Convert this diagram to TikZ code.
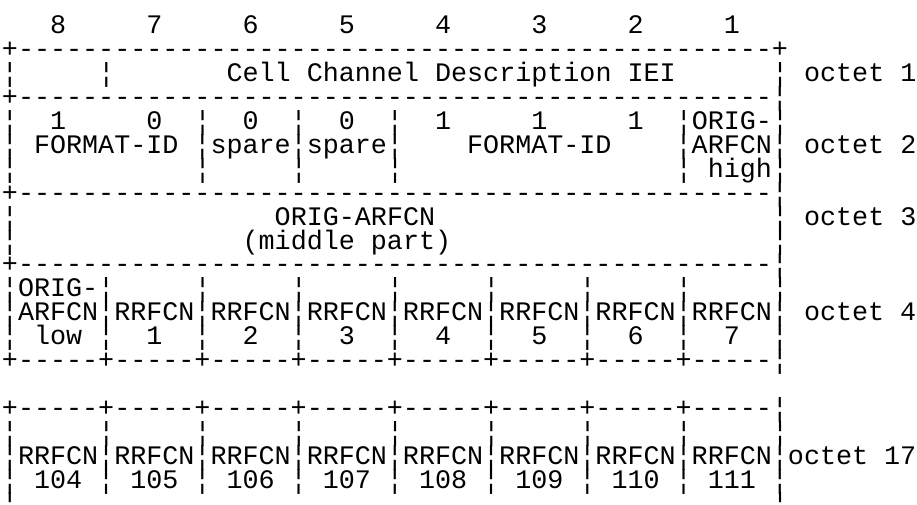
\documentclass[tikz,border=0pt]{standalone}
\usepackage{fontspec}
\setmonofont{Liberation Mono}
\newcommand\blank[1]{\hspace*{#1\fontdimen2\font}}

\begin{document}
\begin{tikzpicture}[
    x=0.75pt, y=-0.75pt,
    every node/.style={font=\fontsize{20.05pt}{22pt}\ttfamily},
    row/.style={anchor=base west, inner sep=0pt, outer sep=0pt},
]
    \useasboundingbox (0,0) rectangle (917,504);

    % bit numbers
    \node[row] (bits) at (2,33.9) {\blank{3}8\blank{5}7\blank{5}6\blank{5}5\blank{5}4\blank{5}3\blank{5}2\blank{5}1};

    % octet 1
    \node[row] (top)   at (2,57.8)  {+-----------------------------------------------+};
    \node[row] (iei)   at (2,81.7)  {¦\blank{5}¦\blank{7}Cell Channel Description IEI\blank{6}¦ octet 1};
    \node[row] (sepa)  at (2,105.6) {+-----------------------------------------------¦};

    % octet 2
    \node[row] (fmta)  at (2,129.5) {¦\blank{2}1\blank{5}0\blank{2}¦\blank{2}0\blank{2}¦\blank{2}0\blank{2}¦\blank{2}1\blank{5}1\blank{5}1\blank{2}¦ORIG-¦};
    \node[row] (fmtb)  at (2,153.4) {¦ FORMAT-ID ¦spare¦spare¦\blank{4}FORMAT-ID\blank{4}¦ARFCN¦ octet 2};
    \node[row] (fmtc)  at (2,177.3) {¦\blank{11}¦\blank{5}¦\blank{5}¦\blank{17}¦ high¦};
    \node[row] (sepb)  at (2,201.2) {+-----------------------------------------------¦};

    % octet 3
    \node[row] (mida)  at (2,225.1) {¦\blank{16}ORIG-ARFCN\blank{21}¦ octet 3};
    \node[row] (midb)  at (2,249.0) {¦\blank{14}(middle part)\blank{20}¦};
    \node[row] (sepc)  at (2,272.9) {+-----------------------------------------------¦};

    % octet 4
    \node[row] (rra)   at (2,296.8) {¦ORIG-¦\blank{5}¦\blank{5}¦\blank{5}¦\blank{5}¦\blank{5}¦\blank{5}¦\blank{5}¦};
    \node[row] (rrb)   at (2,320.7) {¦ARFCN¦RRFCN¦RRFCN¦RRFCN¦RRFCN¦RRFCN¦RRFCN¦RRFCN¦ octet 4};
    \node[row] (rrc)   at (2,344.6) {¦ low ¦\blank{2}1\blank{2}¦\blank{2}2\blank{2}¦\blank{2}3\blank{2}¦\blank{2}4\blank{2}¦\blank{2}5\blank{2}¦\blank{2}6\blank{2}¦\blank{2}7\blank{2}¦};
    \node[row] (sepd)  at (2,368.5) {+-----+-----+-----+-----+-----+-----+-----+-----¦};

    % octet 17
    \node[row] (sepe)  at (2,416.3) {+-----+-----+-----+-----+-----+-----+-----+-----¦};
    \node[row] (lasta) at (2,440.2) {¦\blank{5}¦\blank{5}¦\blank{5}¦\blank{5}¦\blank{5}¦\blank{5}¦\blank{5}¦\blank{5}¦};
    \node[row] (lastb) at (2,464.1) {¦RRFCN¦RRFCN¦RRFCN¦RRFCN¦RRFCN¦RRFCN¦RRFCN¦RRFCN¦octet 17};
    \node[row] (lastc) at (2,488.0) {¦ 104 ¦ 105 ¦ 106 ¦ 107 ¦ 108 ¦ 109 ¦ 110 ¦ 111 ¦};
    \node[row] (tail)  at (2,511.9) {¦\blank{47}¦};
\end{tikzpicture}
\end{document}
